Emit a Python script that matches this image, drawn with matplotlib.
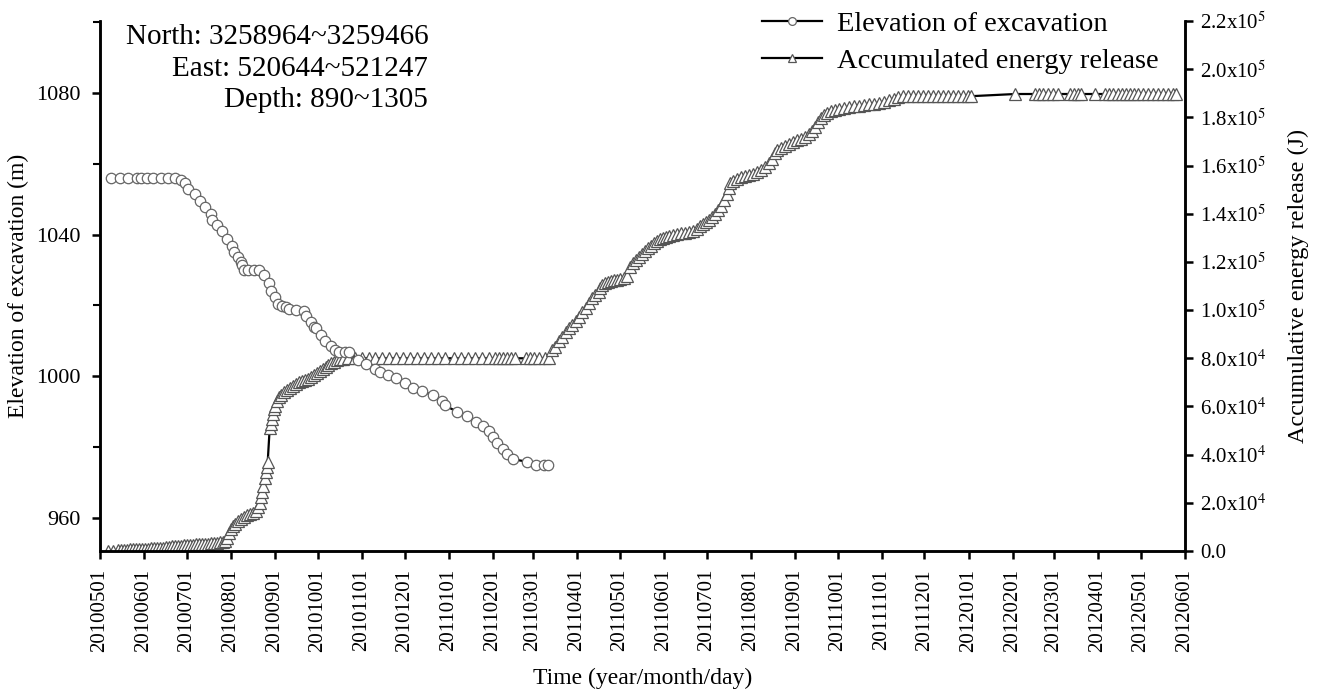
import numpy as np
import matplotlib
matplotlib.use('Agg')
import matplotlib.pyplot as plt
import matplotlib.dates as mdates
from matplotlib.ticker import MultipleLocator, FuncFormatter

plt.rcParams['font.family'] = ['Liberation Serif', 'DejaVu Serif']
plt.rcParams['mathtext.fontset'] = 'stix'

START = '2010-05-01'   # day 0 of the time axis

# elevation of the excavation face (m), days counted from START
elev_day = [8, 14, 20, 26, 29, 33, 37, 43, 48, 53,
            57, 60, 62, 67, 70, 74, 78, 79, 82, 86, 89, 93, 94, 97, 99, 100, 101,
            104, 108, 112,
            115, 119, 120, 123, 125, 128, 131, 133, 138, 143, 145, 148, 150, 152, 155, 158, 162, 165,
            168, 172, 175,
            181, 187, 193, 197, 202, 208, 214, 220, 226, 234, 240, 242,
            251, 258, 264, 269, 273, 276, 279, 283, 286, 290,
            300, 306, 312, 315]
elev = [1056.0, 1056.0, 1056.0, 1056.0, 1056.0, 1056.0, 1056.0, 1056.0, 1056.0, 1056.0,
        1055.4, 1054.5, 1053.0, 1051.5, 1049.6, 1047.7, 1045.8, 1044.2, 1042.7, 1041.1, 1038.7,
        1036.8, 1035.0, 1033.6, 1032.4, 1031.3, 1030.1,
        1030.1, 1030.1, 1030.1,
        1028.5, 1026.3, 1024.2, 1022.3, 1020.5, 1019.8, 1019.5, 1018.9, 1018.8, 1018.4, 1016.9,
        1015.3, 1013.9, 1013.6, 1011.7, 1009.9, 1008.5, 1007.3,
        1006.8, 1006.8, 1006.8,
        1004.7, 1003.6, 1002.2, 1001.2, 1000.3, 999.4, 998.0, 996.8, 995.9, 994.6, 993.0, 991.8,
        990.0, 988.7, 987.1, 985.9, 984.6, 982.9, 981.2, 979.6, 978.0, 976.6,
        975.9, 974.9, 974.9, 974.9]

# accumulated energy release (J), days counted from START
energy_day = [5.6, 9.1, 12.6, 14.7, 16.8, 18.9, 21.0, 23.1, 25.2, 27.3,
              29.4, 31.5, 33.6, 35.8, 37.9, 40.0, 42.1, 44.2, 46.3, 48.4,
              50.5, 52.6, 54.7, 56.8, 58.9, 61.0, 63.1, 65.2, 67.3, 69.4,
              71.5, 73.6, 75.7, 77.8, 79.9, 82.0, 84.1, 86.2,
              87.6, 89.0, 90.4, 91.8, 93.2, 94.6, 96.7, 98.8, 100.9, 103.0,
              105.1, 107.3, 109.4, 110.8, 112.2, 112.9, 113.6, 114.3, 115.7, 116.4,
              117.1, 117.8, 119.2, 119.9, 120.6, 121.3, 122.0, 122.7, 124.1, 125.5,
              126.9, 129.0, 131.1, 133.2, 135.3, 137.4, 139.5, 141.6, 143.7, 145.8,
              147.9, 150.0, 152.1, 154.2, 156.3, 158.4, 160.5, 162.6, 164.7, 166.8,
              168.9, 171.0,
              173.9, 178.8, 183.7, 188.6, 193.5, 198.4, 203.3, 208.2, 213.1, 218.0,
              222.9, 227.8, 232.7, 237.6, 242.6, 248.9, 253.8, 258.7, 263.6, 268.5,
              273.4, 277.6, 280.4, 283.2, 286.0, 288.8, 291.6, 299.3, 302.1, 304.9,
              308.4, 312.6, 315.5,
              317.6, 319.7, 322.5, 324.6, 327.4, 329.5, 331.6, 334.4, 336.5, 338.6,
              341.4, 343.5, 345.6, 347.7, 350.5, 351.2, 352.6, 354.7, 356.8, 358.9,
              361.0, 363.1, 365.2, 368.0, 370.1, 372.2, 374.3, 376.4, 378.5, 380.7,
              382.8, 384.9, 387.0, 389.1, 391.2, 393.3, 395.4, 397.5, 399.6, 402.4,
              405.2, 408.0, 410.8, 413.6, 416.4, 419.2, 421.3, 423.4, 425.5, 427.6,
              429.7, 431.8, 433.9, 436.0, 438.1, 440.2, 441.6, 442.3, 444.4, 447.2,
              450.0, 452.9, 455.7, 458.5, 461.3, 464.1, 466.9, 469.7, 471.8, 473.9,
              475.3, 478.1, 480.9, 483.7, 486.5, 489.3, 492.1, 494.9, 497.7, 499.8,
              501.9, 504.0, 506.1, 508.2, 510.3, 513.1, 515.9, 518.7, 522.3, 525.8,
              529.3, 532.8, 536.3, 539.8, 543.3, 546.8, 550.3, 553.8, 557.3, 560.8,
              564.3, 567.8, 571.3, 574.8, 578.3, 581.8, 585.3, 588.8, 592.4, 595.9,
              599.4, 602.9, 606.4, 609.9, 612.0,
              642.8, 656.9, 659.7, 662.5, 666.0, 669.5, 673.0, 681.4, 684.2, 687.0,
              689.1, 698.9, 706.0, 708.8, 711.6, 715.0, 717.8, 720.6, 723.5, 726.3,
              729.1, 732.6, 736.1, 739.6, 743.1, 746.6, 750.1, 753.6, 755.7]
energy = [0, 200, 400, 400, 500, 600, 620, 700, 750, 830,
          830, 910, 1000, 1080, 1160, 1250, 1330, 1450, 1580, 1660,
          1870, 2080, 2160, 2280, 2400, 2490, 2570, 2660, 2740, 2820,
          2900, 2990, 3070, 3150, 3240, 3320, 3530, 3740,
          4150, 5400, 7470, 9130, 10400, 11200, 12500, 13300, 14100, 14900,
          15400, 15800, 16600, 18300, 19900, 22400, 24500, 27000, 30300, 32800,
          34900, 36900, 51000, 52700, 54800, 56900, 58900, 60200, 62300, 63900,
          64700, 66000, 66800, 67600, 68500, 69300, 70100, 70600, 71000, 71400,
          72200, 73000, 73900, 74700, 75500, 76400, 77200, 78000, 78600, 79100,
          79500, 79700,
          80000, 80000, 80000, 80000, 80000, 80000, 80000, 80000, 80000, 80000,
          80000, 80000, 80000, 80000, 80000, 80000, 80000, 80000, 80000, 80000,
          80000, 80000, 80000, 80000, 80000, 80000, 80000, 80000, 80000, 80000,
          80000, 80000, 80000,
          83400, 84700, 87100, 88800, 90900, 92500, 93800, 95500, 97100, 99200,
          100800, 102900, 105000, 106200, 107500, 109100, 110400, 111200, 111600, 112100,
          112500, 112500, 112900, 113300, 114100, 117900, 119500, 120800, 122000, 123300,
          124500, 125700, 126600, 127800, 128700, 129500, 129900, 130300, 130700, 131100,
          131600, 131800, 132000, 132400, 132800, 133600, 134900, 135700, 136500, 137400,
          138600, 139900, 141500, 143200, 145700, 148200, 150600, 152700, 153600, 154400,
          155200, 155600, 156000, 156500, 157300, 158100, 159400, 161000, 162700, 165200,
          166400, 167200, 168100, 168900, 169700, 170600, 171000, 171800, 173100, 174300,
          176000, 178000, 179700, 180900, 181800, 182600, 183000, 183400, 183800, 184300,
          184700, 184700, 185100, 185500, 185700, 185900, 186300, 187200, 187800, 188400,
          188800, 188800, 188800, 188800, 188800, 188800, 188800, 188800, 188800, 188800,
          188800, 188800, 188800, 188800, 188800,
          189700, 189700, 189700, 189700, 189700, 189700, 189700, 189700, 189700, 189700,
          189700, 189700, 189700, 189700, 189700, 189700, 189700, 189700, 189700, 189700,
          189700, 189700, 189700, 189700, 189700, 189700, 189700, 189700, 189700]

t0 = mdates.datestr2num(START)
x_elev = t0 + np.array(elev_day)
x_energy = t0 + np.array(energy_day)

fig = plt.figure(figsize=(13.24, 6.89), dpi=100)
ax = fig.add_axes([0.0755, 0.2003, 0.8195, 0.7692])
ax2 = ax.twinx()

l2, = ax2.plot(x_energy, energy, color='black', lw=1.6, marker='^', ms=8.5,
               mfc='white', mec='#555555', mew=0.9)
l1, = ax.plot(x_elev, elev, color='black', lw=1.6, marker='o', ms=7.5,
              mfc='white', mec='#666666', mew=0.9)
ax.set_zorder(ax2.get_zorder() + 1)
ax.patch.set_visible(False)

ax.set_xlim(t0, mdates.datestr2num('2012-06-01'))
ax.set_ylim(950.7, 1100.3)
ax2.set_ylim(0, 2.2e5)

ax.xaxis.set_major_locator(mdates.MonthLocator())
ax.xaxis.set_major_formatter(mdates.DateFormatter('%Y%m%d'))
ax.yaxis.set_major_locator(MultipleLocator(40))
ax.yaxis.set_minor_locator(MultipleLocator(20))
ax2.yaxis.set_major_locator(MultipleLocator(2e4))


def sci(v, pos):
    if v < 1:
        return '0.0' if abs(v) < 1 else ''
    e = int(np.floor(np.log10(v)))
    return '%.1fx10$^{%d}$' % (v / 10**e, e)


ax2.yaxis.set_major_formatter(FuncFormatter(sci))

for a in (ax, ax2):
    a.spines['top'].set_visible(False)
    for s in ('left', 'right', 'bottom'):
        a.spines[s].set_linewidth(1.8)
    a.tick_params(which='major', direction='out', length=6, width=1.8)
    a.tick_params(which='minor', direction='out', length=5, width=1.5)
ax.tick_params(axis='x', labelsize=15, pad=7)
ax.tick_params(axis='y', labelsize=16, pad=8)
ax2.tick_params(axis='y', labelsize=15, pad=5)
plt.setp(ax.get_xticklabels(), rotation=90)

ax.set_xlabel('Time (year/month/day)', fontsize=17, labelpad=11)
ax.set_ylabel('Elevation of excavation (m)', fontsize=17, labelpad=5)
ax2.set_ylabel('Accumulative energy release (J)', fontsize=17.5, labelpad=15)

fig.text(0.3235, 0.965, 'North: 3258964~3259466\nEast: 520644~521247\nDepth: 890~1305',
         ha='right', va='top', fontsize=21, multialignment='right', linespacing=1.28)

fig.legend([l1, l2], ['Elevation of excavation', 'Accumulated energy release'],
           loc='upper left', bbox_to_anchor=(762 / 1324, 1 - 11 / 689), frameon=False,
           borderpad=0, borderaxespad=0, markerscale=0.75,
           fontsize=20.5, handlelength=2.1, handletextpad=0.55, labelspacing=0.39)

fig.savefig('out.png', dpi=100)
